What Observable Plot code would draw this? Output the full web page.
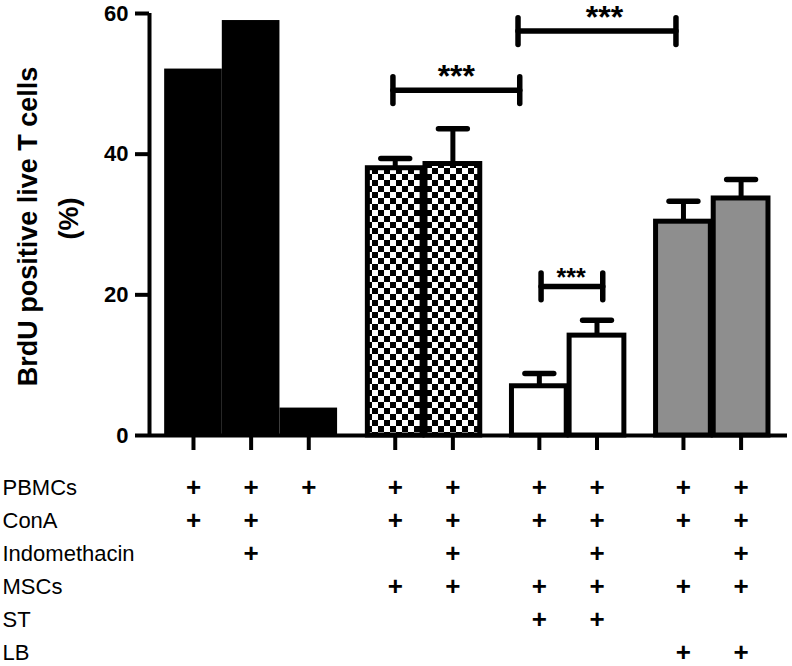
<!DOCTYPE html>
<html>
<head>
<meta charset="utf-8">
<script src="https://cdn.jsdelivr.net/npm/d3@7"></script>
<script src="https://cdn.jsdelivr.net/npm/@observablehq/plot@0.6"></script>
<style>
  body { margin: 0; background: #fff; }
  #chart svg { display: block; }
</style>
</head>
<body>
<div id="chart"></div>
<script>
// ---- data ----
const treatment = ["ConA", "ConA+Indo", "PBMCs only", "MSCs", "MSCs+Indo", "ST", "ST+Indo", "LB", "LB+Indo"];
const group     = ["PBMC", "PBMC", "PBMC", "MSC", "MSC", "ST", "ST", "LB", "LB"];
const values    = [52.1, 59.0, 3.9, 38.0, 38.6, 7.0, 14.2, 30.4, 33.7];
const errors    = [0, 0, 0, 1.4, 5.0, 1.8, 2.2, 2.9, 2.7];
const yTicks    = [0, 20, 40, 60];

const groupNames = ["PBMC", "MSC", "ST", "LB"];

const rows = ["PBMCs", "ConA", "Indomethacin", "MSCs", "ST", "LB"];
const present = [
  [1, 1, 1, 1, 1, 1, 1, 1, 1],
  [1, 1, 0, 1, 1, 1, 1, 1, 1],
  [0, 1, 0, 0, 1, 0, 1, 0, 1],
  [0, 0, 0, 1, 1, 1, 1, 1, 1],
  [0, 0, 0, 0, 0, 1, 1, 0, 0],
  [0, 0, 0, 0, 0, 0, 0, 1, 1]
];

// significance brackets (x in bar-slot units, y in %)
const bracketFrom  = [3.46, 5.63, 6.03];
const bracketTo    = [5.66, 8.37, 7.10];
const bracketLevel = [49.1, 57.5, 21.2];
const bracketStarX = [4.56, 7.13, 6.55];
const bracketText  = ["***", "***", "***"];

const yLabel1 = "BrdU positive live T cells";
const yLabel2 = "(%)";

// ---- layout derived from data ----
const pos = [];
{
  let p = 0;
  group.forEach((g, i) => {
    if (i > 0) p += (g === group[i - 1]) ? 1 : 1.5;
    pos.push(p);
  });
}
const bars = treatment.map((t, i) => ({t, g: group[i], x: pos[i], v: values[i], e: errors[i]}));
const errBars = bars.filter(d => d.e > 0);
const brackets = bracketFrom.map((x1, i) => ({x1, x2: bracketTo[i], y: bracketLevel[i], sx: bracketStarX[i], text: bracketText[i], i}));
const bracketEnds = brackets.flatMap(b => [{x: b.x1, y: b.y}, {x: b.x2, y: b.y}]);
const cells = rows.flatMap((r, ri) => present[ri].map((p, ci) => p ? {row: r, x: pos[ci]} : null).filter(Boolean));

const font = "'Liberation Sans', Arial, Helvetica, sans-serif";
const xDomain = [-0.763, 10.305];
const W = 792;

const chart = Plot.plot({
  width: W, height: 460,
  marginLeft: 149, marginRight: 5, marginTop: 13, marginBottom: 25,
  style: {fontFamily: font, background: "white", overflow: "visible", color: "black"},
  x: {domain: xDomain, axis: null},
  y: {domain: [0, 60], axis: null},
  color: {type: "ordinal", domain: groupNames, range: ["black", "url(#checker)", "white", "#8e8e8e"]},
  marks: [
    // error bars
    Plot.ruleX(errBars, {x: "x", y1: "v", y2: d => d.v + d.e, stroke: "black", strokeWidth: 5}),
    Plot.link(errBars, {x1: d => d.x - 0.25, x2: d => d.x + 0.25, y1: d => d.v + d.e, y2: d => d.v + d.e,
      stroke: "black", strokeWidth: 5.5, strokeLinecap: "round"}),
    // solid black bars
    Plot.rectY(bars.filter(d => d.g === "PBMC"), {x1: d => d.x - 0.5, x2: d => d.x + 0.5, y: "v", fill: "g", inset: 0}),
    // outlined bars
    Plot.rectY(bars.filter(d => d.g !== "PBMC"), {x1: d => d.x - 0.475, x2: d => d.x + 0.475, y: "v", fill: "g",
      stroke: "black", strokeWidth: 5, inset: 0}),
    // axes lines
    Plot.ruleY([0], {stroke: "black", strokeWidth: 4}),
    Plot.ruleX([xDomain[0]], {y1: 0, y2: 60, stroke: "black", strokeWidth: 4}),
    Plot.axisY({ticks: yTicks, tickSize: 14, tickPadding: 7, strokeWidth: 4, fontSize: 22, fontWeight: "bold", label: null}),
    Plot.axisX(pos, {tickSize: 15, strokeWidth: 4, tickFormat: () => "", label: null}),
    // brackets
    Plot.link(brackets, {x1: "x1", x2: "x2", y1: "y", y2: "y", stroke: "black", strokeWidth: 5.5, strokeLinecap: "round"}),
    Plot.link(bracketEnds, {x1: "x", x2: "x", y1: d => d.y - 1.9, y2: d => d.y + 1.9, stroke: "black", strokeWidth: 5.5, strokeLinecap: "round"}),
    Plot.text(brackets.filter(b => b.i < 2), {x: "sx", y: "y", text: "text", fontSize: 32, fontWeight: "bold", lineAnchor: "bottom", dy: -3}),
    Plot.text(brackets.filter(b => b.i === 2), {x: "sx", y: "y", text: "text", fontSize: 25, fontWeight: "bold", lineAnchor: "bottom", dy: 0}),
    // y label
    Plot.text([yLabel1], {frameAnchor: "left", textAnchor: "middle", text: d => d, rotate: -90, dx: -121, dy: 2, fontSize: 27, fontWeight: "bold"}),
    Plot.text([yLabel2], {frameAnchor: "left", textAnchor: "middle", text: d => d, rotate: -90, dx: -80, dy: -6, fontSize: 27, fontWeight: "bold"})
  ]
});

// checker pattern for MSC bars
{
  const defs = d3.select(chart).insert("defs", ":first-child");
  const pat = defs.append("pattern").attr("id", "checker").attr("patternUnits", "userSpaceOnUse")
    .attr("width", 12).attr("height", 12);
  pat.append("rect").attr("width", 12).attr("height", 12).attr("fill", "white");
  pat.append("rect").attr("width", 6).attr("height", 6).attr("fill", "black");
  pat.append("rect").attr("x", 6).attr("y", 6).attr("width", 6).attr("height", 6).attr("fill", "black");
}

const table = Plot.plot({
  width: W, height: 206,
  marginLeft: 149, marginRight: 5, marginTop: 0, marginBottom: 0,
  style: {fontFamily: font, background: "white", overflow: "visible", color: "black"},
  x: {domain: xDomain, axis: null},
  y: {type: "point", domain: rows, range: [26, 192], padding: 0, axis: null},
  marks: [
    Plot.text(rows, {y: d => d, text: d => d, frameAnchor: "left", textAnchor: "start", dx: -147, fontSize: 22}),
    Plot.text(cells, {x: "x", y: "row", text: () => "+", fontSize: 26, fontWeight: "bold"})
  ]
});

const root = document.getElementById("chart");
root.appendChild(chart);
root.appendChild(table);
</script>
</body>
</html>
